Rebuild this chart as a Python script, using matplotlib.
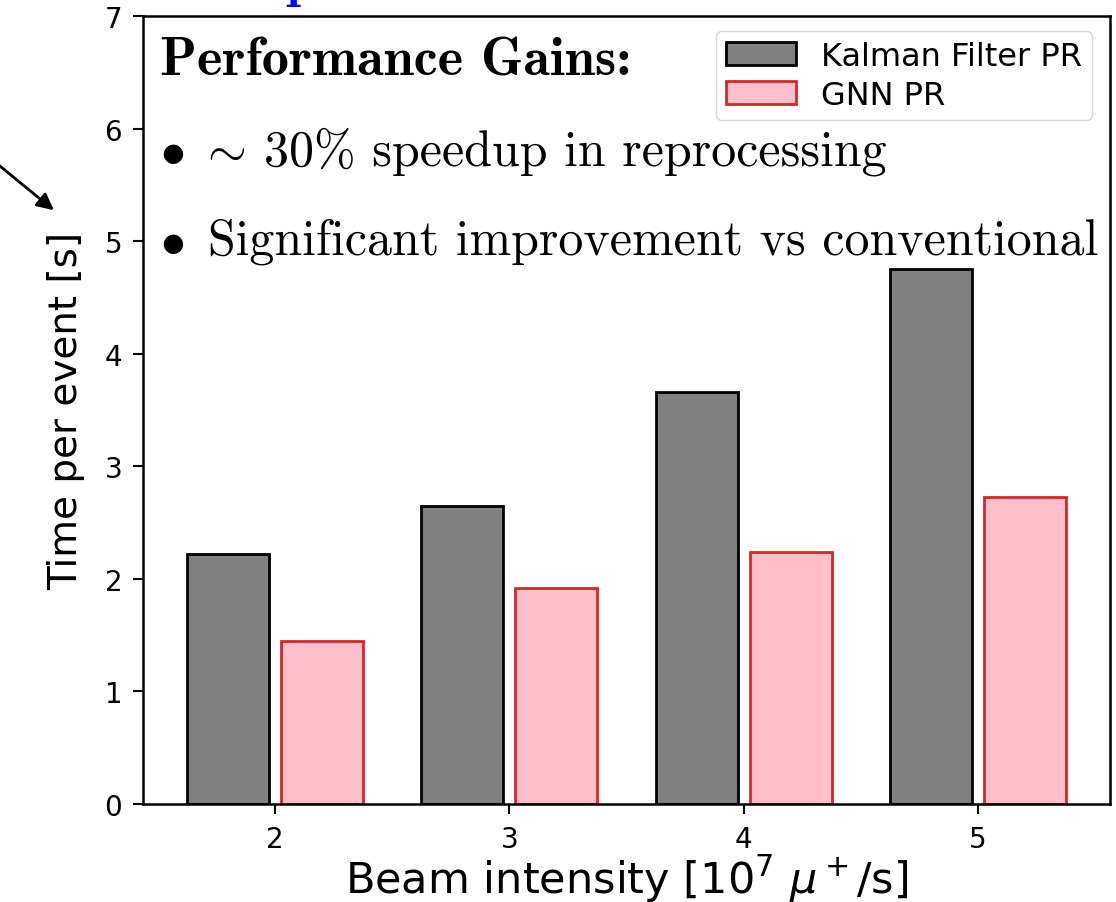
import numpy as np
import matplotlib.pyplot as plt

plt.rcParams['mathtext.fontset'] = 'cm'

intensity = [2, 3, 4, 5]
kalman_time = [2.22, 2.65, 3.66, 4.75]
gnn_time = [1.45, 1.92, 2.24, 2.73]

notes_title = 'Performance Gains:'
note_1 = '30% speedup in reprocessing'
note_2 = 'Significant improvement vs conventional'

BAR_W = 0.35; OFFSET = 0.2
XLABEL_SIZE = 31; YLABEL_SIZE = 28; TICK_SIZE = 20; LEGEND_SIZE = 23
NOTE_SIZE = 36; NOTE_TITLE_SIZE = 39
W, H = 1116, 903

fig = plt.figure(figsize=(W/100, H/100), dpi=100)
ax = fig.add_axes([143/W, 1 - 805/H, (1110 - 143)/W, (805 - 17)/H])

x = np.array(intensity)
ax.bar(x - OFFSET, kalman_time, BAR_W, color='grey', edgecolor='black',
       linewidth=2, label='Kalman Filter PR')
ax.bar(x + OFFSET, gnn_time, BAR_W, color='pink', edgecolor='#d62728',
       linewidth=2, label='GNN PR')

ax.set_xlim(1.4375, 5.5625)
ax.set_ylim(0, 7)
ax.set_xticks(intensity)
ax.tick_params(labelsize=TICK_SIZE, length=7, width=1.5, pad=8)
for sp in ax.spines.values():
    sp.set_linewidth(1.8)

ax.set_xlabel(r'Beam intensity [$10^7\ \mu^+$/s]', fontsize=XLABEL_SIZE,
              math_fontfamily='dejavusans', labelpad=0)
ax.set_ylabel('Time per event [s]', fontsize=YLABEL_SIZE, labelpad=14)

ax.legend(loc='upper right', fontsize=LEGEND_SIZE,
          bbox_to_anchor=((1092 - 143)/967, (805 - 32)/788), borderaxespad=0,
          handlelength=2.2, labelspacing=0.25, borderpad=0.3)

# notes written over the plot
fig.text(160/W, 1 - 75/H, notes_title, family='cmb10',
         fontsize=NOTE_TITLE_SIZE, va='baseline')
y1 = 1 - 165/H; y2 = 1 - 255/H
fig.text(160/W, y1, r'$\bullet$', fontsize=NOTE_SIZE, va='baseline')
fig.text(199/W, y1, r'$\sim$', fontsize=NOTE_SIZE, va='baseline')
fig.text(264/W, y1, note_1, family='cmr10', fontsize=NOTE_SIZE, va='baseline')
fig.text(160/W, y2, r'$\bullet$', fontsize=NOTE_SIZE, va='baseline')
fig.text(208/W, y2, note_2, family='cmr10', fontsize=NOTE_SIZE, va='baseline')

# cut-off title from the slide above
fig.text(300/W, 1 + 4/H, 'p', family='cmb10', color='blue',
         fontsize=NOTE_TITLE_SIZE, ha='center', va='baseline')

ax.annotate('', xy=(56/W, 1 - 213/H), xytext=(-5/W, 1 - 163/H),
            xycoords='figure fraction', textcoords='figure fraction',
            arrowprops=dict(arrowstyle='-|>', color='black', lw=2,
                            mutation_scale=25), annotation_clip=False)

fig.savefig('out.png', dpi=100)
